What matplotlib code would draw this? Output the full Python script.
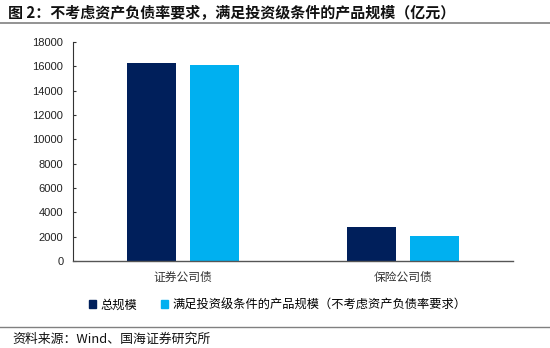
import matplotlib
matplotlib.use("Agg")
import matplotlib.pyplot as plt
import numpy as np
from matplotlib.patches import Rectangle
from matplotlib.lines import Line2D

plt.rcParams['font.family'] = ['Noto Sans CJK SC', 'DejaVu Sans']

categories = ["证券公司债", "保险公司债"]
total_scale = [16300, 2770]
qualified_scale = [16130, 2030]
series_names = ["总规模", "满足投资级条件的产品规模（不考虑资产负债率要求）"]
yticks = [0, 2000, 4000, 6000, 8000, 10000, 12000, 14000, 16000, 18000]

title = "图 2：不考虑资产负债率要求，满足投资级条件的产品规模（亿元）"
source = "资料来源：Wind、国海证券研究所"

c_dark = "#001f5b"
c_light = "#00b0f0"

fig = plt.figure(figsize=(5.5, 3.48), dpi=100)
ax = fig.add_axes([73 / 550, 1 - 261 / 348, 440 / 550, 219 / 348])

x = np.arange(len(categories))
w = 0.223
off = 0.143
ax.bar(x - off, total_scale, width=w, color=c_dark, label=series_names[0])
ax.bar(x + off, qualified_scale, width=w, color=c_light, label=series_names[1])

ax.set_xlim(-0.5, 1.5)
ax.set_ylim(0, 18000)
ax.set_yticks(yticks)
ax.set_yticklabels([str(v) for v in yticks], family="Liberation Sans", fontsize=8, color="#222222")
ax.set_xticks(x)
ax.set_xticklabels(categories, fontsize=8.5, color="#333333")
ax.tick_params(axis="x", length=0, pad=7)
ax.tick_params(axis="y", direction="in", length=2.5, width=0.8, color="#333333", pad=7)
for s in ("top", "right"):
    ax.spines[s].set_visible(False)
ax.spines["left"].set_color("#333333")
ax.spines["left"].set_linewidth(0.8)
ax.spines["bottom"].set_color("#555555")
ax.spines["bottom"].set_linewidth(1.0)

# header and footer
fig.text(8 / 550, 1 - 13 / 348, title, fontsize=10.8, fontweight="bold", color="#111111", va="center", ha="left")
fig.add_artist(Line2D([0, 1], [1 - 23 / 348, 1 - 23 / 348], color="#808080", lw=1.2, transform=fig.transFigure))
fig.add_artist(Line2D([0, 1], [1 - 327 / 348, 1 - 327 / 348], color="#808080", lw=1.0, transform=fig.transFigure))
fig.text(12 / 550, 1 - 339 / 348, source, fontsize=9.3, color="#111111", va="center", ha="left")

# legend
handles = [Rectangle((0, 0), 1, 1, color=c_dark), Rectangle((0, 0), 1, 1, color=c_light)]
fig.legend(handles, series_names, loc="center left", bbox_to_anchor=(89 / 550, 1 - 305 / 348),
           ncol=2, frameon=False, fontsize=8.8, handlelength=0.55, handleheight=0.55,
           handletextpad=0.35, columnspacing=2.0, borderaxespad=0, borderpad=0)

fig.savefig("out.png", dpi=100)
